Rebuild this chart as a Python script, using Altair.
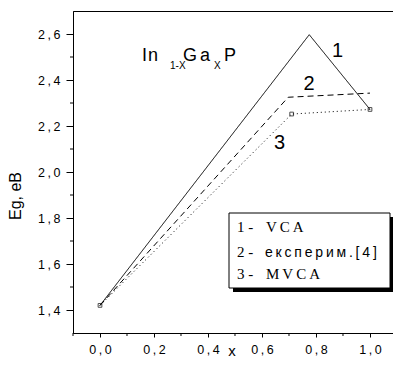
import altair as alt
import pandas as pd

# ---- data ----
x_vca = [0.0, 0.775, 1.0]
y_vca = [1.42, 2.597, 2.272]
x_exp = [0.0, 0.697, 1.0]
y_exp = [1.42, 2.325, 2.343]
x_mvca = [0.0, 0.71, 1.0]
y_mvca = [1.42, 2.252, 2.272]

marker_x = [0.0, 0.71, 1.0]
marker_y = [1.42, 2.252, 2.272]

curve_labels = ["1", "2", "3"]
curve_label_x = [0.88, 0.774, 0.665]
curve_label_y = [2.524, 2.383, 2.125]

x_major = [0.0, 0.2, 0.4, 0.6, 0.8, 1.0]
x_minor = [-0.1, 0.1, 0.3, 0.5, 0.7, 0.9]
y_major = [1.4, 1.6, 1.8, 2.0, 2.2, 2.4, 2.6]
y_minor = [1.5, 1.7, 1.9, 2.1, 2.3, 2.5]

ts = "\u2009"
legend_num = ["1  -", "2  -", "3  -"]
legend_txt = ["V" + ts + "C" + ts + "A",
              ts.join(list("експерим.[4]")),
              "M" + ts + "V" + ts + "C" + ts + "A"]

title_parts = ["I", "n", "1-X", "G", "a", "X", "P"]

W, H = 320, 322
X_DOM = [-0.1, 1.0852]
Y_DOM = [1.3, 2.7]

xs = alt.Scale(domain=X_DOM, nice=False, zero=False)
ys = alt.Scale(domain=Y_DOM, nice=False, zero=False)

lab = "replace(datum.label, '.', '\u2009,\u2009')"

def line_layer(xv, yv, dash):
    df = pd.DataFrame({"x": xv, "y": yv})
    return alt.Chart(df).mark_line(color="black", strokeWidth=1, strokeDash=dash).encode(
        x=alt.X("x:Q", scale=xs, axis=alt.Axis(values=x_major, format=".1f", labelExpr=lab,
                                                 tickSize=4, labelPadding=6, title=None, grid=False)),
        y=alt.Y("y:Q", scale=ys, axis=alt.Axis(values=y_major, format=".1f", labelExpr=lab,
                                                 tickSize=7, labelPadding=6, title=None, grid=False)),
    )

l1 = line_layer(x_vca, y_vca, [1, 0])
l2 = line_layer(x_exp, y_exp, [6, 4])
l3 = line_layer(x_mvca, y_mvca, [1, 3])

mk = alt.Chart(pd.DataFrame({"x": marker_x, "y": marker_y})).mark_point(
    shape="square", filled=False, color="black", size=14, strokeWidth=1
).encode(x=alt.X("x:Q", scale=xs), y=alt.Y("y:Q", scale=ys))

cl = alt.Chart(pd.DataFrame({"x": curve_label_x, "y": curve_label_y, "t": curve_labels})).mark_text(
    font="Liberation Sans", fontSize=20, color="black", align="center", baseline="middle"
).encode(x=alt.X("x:Q", scale=xs), y=alt.Y("y:Q", scale=ys), text="t:N")

# minor ticks
xmin = alt.Chart(pd.DataFrame({"x": x_minor})).mark_rule(color="black", strokeWidth=1).encode(
    x=alt.X("x:Q", scale=xs), y=alt.value(H), y2=alt.value(H + 3))
ymin = alt.Chart(pd.DataFrame({"y": y_minor})).mark_rule(color="black", strokeWidth=1).encode(
    y=alt.Y("y:Q", scale=ys), x=alt.value(-3), x2=alt.value(0))

# title In(1-x)Ga(x)P
tdf = pd.DataFrame({
    "t": title_parts,
    "px": [69, 75, 97, 110, 127, 141, 151],
    "py": [50, 50, 58, 50, 50, 58, 50],
    "fs": [18, 18, 10, 18, 18, 10, 18],
})
tt = alt.Chart(tdf).mark_text(font="Liberation Sans", color="black", align="left", baseline="alphabetic").encode(
    x=alt.X("px:Q", scale=None), y=alt.Y("py:Q", scale=None), text="t:N",
    size=alt.Size("fs:Q", scale=None))

# legend box
bx0, bx1, by0, by1 = 156, 317, 202, 277
shadow = alt.Chart(pd.DataFrame({"a": [0]})).mark_rect(color="black").encode(
    x=alt.value(bx0 + 4), x2=alt.value(bx1 + 4), y=alt.value(by0 + 4), y2=alt.value(by1 + 4))
box = alt.Chart(pd.DataFrame({"a": [0]})).mark_rect(fill="white", stroke="black", strokeWidth=1).encode(
    x=alt.value(bx0), x2=alt.value(bx1), y=alt.value(by0), y2=alt.value(by1))
ldf = pd.DataFrame({"n": legend_num, "t": legend_txt, "py": [221, 246, 268]})
lnum = alt.Chart(ldf).mark_text(font="Liberation Serif", fontSize=15, color="black", align="left",
                                baseline="alphabetic").encode(
    x=alt.value(164), y=alt.Y("py:Q", scale=None), text="n:N")
ltxt1 = alt.Chart(ldf.iloc[[0, 2]]).mark_text(font="Liberation Serif", fontSize=15, color="black",
                                              align="left", baseline="alphabetic").encode(
    x=alt.value(193), y=alt.Y("py:Q", scale=None), text="t:N")
ltxt2 = alt.Chart(ldf.iloc[[1]]).mark_text(font="Liberation Sans", fontSize=14, color="black",
                                           align="left", baseline="alphabetic").encode(
    x=alt.value(192), y=alt.Y("py:Q", scale=None), text="t:N")

# axis titles
ytit = alt.Chart(pd.DataFrame({"t": ["Eg, eB"]})).mark_text(
    font="Liberation Sans", fontSize=16, color="black", angle=270, align="center", baseline="middle"
).encode(x=alt.value(-57), y=alt.value(185), text="t:N")
xtit = alt.Chart(pd.DataFrame({"t": ["x"]})).mark_text(
    font="Liberation Sans", fontSize=15, color="black", align="center", baseline="alphabetic"
).encode(x=alt.value(159), y=alt.value(345), text="t:N")

chart = alt.layer(l1, l2, l3, mk, cl, xmin, ymin, tt, shadow, box, lnum, ltxt1, ltxt2, ytit, xtit).properties(
    width=W, height=H,
    autosize=alt.AutoSizeParams(type="none"),
    padding={"left": 65, "top": 3, "right": 0, "bottom": 25},
).configure_view(stroke="black", strokeWidth=1).configure_axis(
    domainColor="black", tickColor="black", labelColor="black", labelFont="Liberation Sans",
    labelFontSize=12.5, domainWidth=1, tickWidth=1
)

chart.save("out.html", embed_options={"renderer": "svg", "actions": False})
